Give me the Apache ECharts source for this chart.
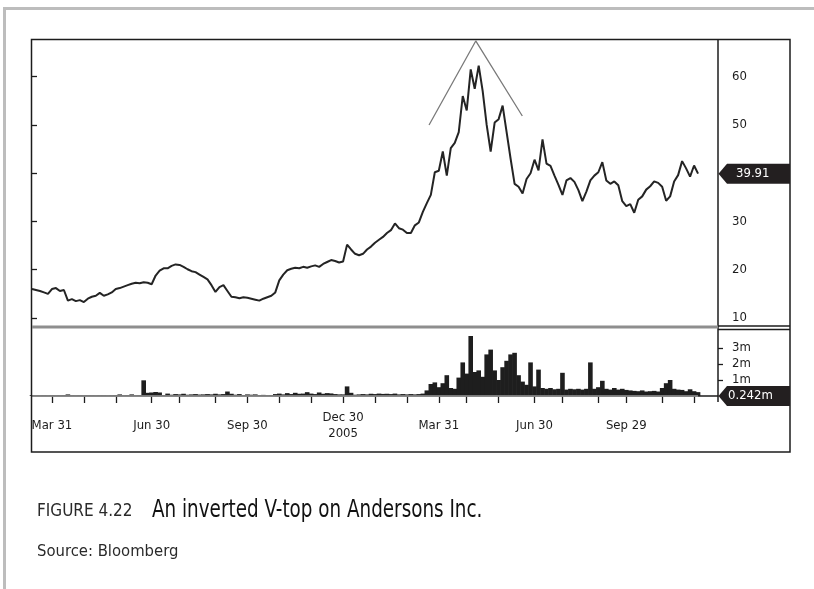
<!DOCTYPE html>
<html>
<head>
<meta charset="utf-8">
<script src="https://cdn.jsdelivr.net/npm/echarts@6/dist/echarts.min.js"></script>
<style>
html,body{margin:0;padding:0;background:#ffffff;}
#chart{width:814px;height:589px;}
</style>
</head>
<body>
<div id="chart"></div>
<script>
// ---- Data ----
// Price samples (every ~2-3 trading days, Mar 2004 .. Dec 2005)
const prices = [
  16.0, 15.8, 15.6, 15.3, 15.0, 16.0, 16.2, 15.6, 15.8, 13.6,
  13.9, 13.5, 13.7, 13.3, 14.0, 14.4, 14.6, 15.2, 14.6, 14.9,
  15.3, 16.0, 16.2, 16.5, 16.8, 17.1, 17.3, 17.2, 17.4, 17.3,
  17.0, 18.8, 19.8, 20.3, 20.3, 20.8, 21.1, 21.0, 20.6, 20.1,
  19.7, 19.5, 19.0, 18.5, 18.0, 16.8, 15.4, 16.4, 16.8, 15.6,
  14.4, 14.3, 14.1, 14.3, 14.2, 14.0, 13.8, 13.6, 14.0, 14.3,
  14.6, 15.3, 17.8, 19.0, 19.9, 20.2, 20.4, 20.3, 20.6, 20.4,
  20.7, 20.9, 20.6, 21.2, 21.6, 22.0, 21.8, 21.5, 21.7, 25.2,
  24.2, 23.3, 23.0, 23.3, 24.2, 24.8, 25.6, 26.2, 26.8, 27.6,
  28.2, 29.6, 28.6, 28.3, 27.6, 27.6, 29.2, 29.8, 32.0, 33.8,
  35.5, 40.2, 40.5, 44.5, 39.5, 45.2, 46.3, 48.5, 56.0, 53.0,
  61.5, 57.5, 62.3, 57.0, 50.0, 44.5, 50.5, 51.2, 54.0, 48.5,
  43.0, 37.8, 37.2, 35.8, 38.8, 40.0, 42.8, 40.6, 47.0, 42.0,
  41.5, 39.5, 37.6, 35.5, 38.5, 39.0, 38.2, 36.5, 34.2, 36.2,
  38.5, 39.5, 40.2, 42.3, 38.5, 37.8, 38.3, 37.5, 34.2, 33.2,
  33.6, 31.8, 34.5, 35.2, 36.6, 37.3, 38.3, 38.0, 37.2, 34.3,
  35.2, 38.3, 39.6, 42.5, 41.0, 39.3, 41.6, 39.91
];
// Volume in millions of shares, same samples
const volumes = [
  0.05, 0.04, 0.04, 0.05, 0.04, 0.05, 0.04, 0.05, 0.06, 0.10,
  0.05, 0.04, 0.05, 0.04, 0.05, 0.05, 0.04, 0.05, 0.05, 0.04,
  0.05, 0.06, 0.10, 0.05, 0.06, 0.10, 0.05, 0.06, 0.98, 0.20,
  0.22, 0.25, 0.22, 0.06, 0.15, 0.08, 0.12, 0.10, 0.14, 0.08,
  0.10, 0.12, 0.09, 0.10, 0.12, 0.10, 0.14, 0.10, 0.12, 0.28,
  0.14, 0.08, 0.12, 0.06, 0.10, 0.08, 0.10, 0.06, 0.07, 0.05,
  0.06, 0.12, 0.15, 0.10, 0.18, 0.12, 0.20, 0.14, 0.15, 0.24,
  0.15, 0.12, 0.22, 0.14, 0.18, 0.16, 0.12, 0.10, 0.10, 0.60,
  0.20, 0.08, 0.10, 0.12, 0.10, 0.14, 0.12, 0.15, 0.13, 0.14,
  0.12, 0.15, 0.10, 0.12, 0.10, 0.12, 0.10, 0.12, 0.15, 0.35,
  0.75, 0.85, 0.55, 0.80, 1.30, 0.50, 0.45, 1.15, 2.10, 1.40,
  3.75, 1.50, 1.60, 1.20, 2.60, 2.90, 1.60, 1.00, 1.80, 2.20,
  2.60, 2.70, 1.30, 0.90, 0.70, 2.10, 0.60, 1.65, 0.50, 0.45,
  0.50, 0.42, 0.45, 1.45, 0.40, 0.45, 0.42, 0.45, 0.40, 0.45,
  2.10, 0.45, 0.55, 0.95, 0.45, 0.40, 0.50, 0.40, 0.45, 0.38,
  0.35, 0.32, 0.30, 0.35, 0.28, 0.30, 0.32, 0.28, 0.50, 0.80,
  1.00, 0.45, 0.40, 0.38, 0.30, 0.42, 0.30, 0.242
];
// Empty sample slots after the last trade (right margin of the plot)
const padSlots = 5;
// Month-end tick positions (sample index) and quarter labels
const monthTickIdx = [5, 13, 21, 30, 37, 46, 54, 62, 70, 78, 86, 94, 102, 109, 117, 126, 133, 142, 149, 158, 166];
const dateLabelIdx = [5, 30, 54, 78, 102, 126, 149];
const dateLabels = ['Mar 31', 'Jun 30', 'Sep 30', 'Dec 30\n2005', 'Mar 31', 'Jun 30', 'Sep 29'];
// Axis tick values
const priceTicks = [10, 20, 30, 40, 50, 60];
const volumeTicks = [1, 2, 3];
// Inverted-V annotation (sample index, price)
const vTop = [[99.55, 49.99], [111.26, 67.4], [122.94, 51.85]];

// ---- Build chart ----
const FONT = '"DejaVu Sans Condensed", "Liberation Sans Narrow", "Arial Narrow", sans-serif';
const categories = prices.concat(new Array(padSlots).fill(null)).map((_, i) => String(i));
const tickSet = new Set(monthTickIdx);
const labelMap = new Map(dateLabelIdx.map((k, j) => [k, dateLabels[j]]));
const lastPrice = prices[prices.length - 1];
const lastVolume = volumes[volumes.length - 1];
const INK = '#1c1c1c';

const chart = echarts.init(document.getElementById('chart'), null, {renderer: 'canvas'});

const baseGraphic = [
  // page border (grey)
  {type: 'line', id: 'pgL', shape: {x1: 4.5, y1: 7, x2: 4.5, y2: 589}, style: {stroke: '#bdbdbd', lineWidth: 3}},
  {type: 'line', id: 'pgT', shape: {x1: 3, y1: 8.5, x2: 814, y2: 8.5}, style: {stroke: '#bdbdbd', lineWidth: 3}},
  // chart frame
  {type: 'rect', id: 'frame', shape: {x: 31.5, y: 39.5, width: 758.5, height: 412.5}, style: {fill: null, stroke: INK, lineWidth: 1.5}, z: 10},
  {type: 'line', id: 'divider', shape: {x1: 718, y1: 40, x2: 718, y2: 402}, style: {stroke: INK, lineWidth: 1.5}, z: 10},
  // separator between price and volume panels
  {type: 'line', id: 'sepG', shape: {x1: 32, y1: 327, x2: 718, y2: 327}, style: {stroke: '#8e8e8e', lineWidth: 3}, z: 10},
  {type: 'line', id: 'sepA', shape: {x1: 718, y1: 326, x2: 790, y2: 326}, style: {stroke: INK, lineWidth: 1.3}, z: 10},
  {type: 'line', id: 'sepB', shape: {x1: 718, y1: 329.5, x2: 790, y2: 329.5}, style: {stroke: INK, lineWidth: 1.3}, z: 10},
  // caption
  {type: 'text', id: 'figNo', x: 37, y: 512, style: {text: 'FIGURE 4.22', font: '17px ' + FONT, fill: '#2a2a2a', verticalAlign: 'middle'}},
  {type: 'text', id: 'figTitle', x: 152, y: 511, scaleX: 0.85, style: {text: 'An inverted V-top on Andersons Inc.', font: '24px ' + FONT, fill: '#111111', verticalAlign: 'middle'}},
  {type: 'text', id: 'figSrc', x: 37, y: 552, style: {text: 'Source: Bloomberg', font: '16.5px ' + FONT, fill: '#2a2a2a', verticalAlign: 'middle'}}
];

const option = {
  animation: false,
  backgroundColor: '#ffffff',
  textStyle: {fontFamily: FONT},
  grid: [
    {left: 32, right: 96, top: 40, height: 278, containLabel: false},
    {left: 32, right: 96, top: 332.8, height: 63.2, containLabel: false}
  ],
  xAxis: [
    {type: 'category', gridIndex: 0, data: categories, boundaryGap: false, show: false},
    {type: 'value', gridIndex: 0, min: 0, max: categories.length - 1, show: false},
    {
      type: 'category', gridIndex: 1, data: categories, boundaryGap: false, offset: 6,
      axisLine: {show: true, lineStyle: {color: INK, width: 1.5}},
      axisTick: {show: true, interval: (i) => tickSet.has(i), length: 7, lineStyle: {color: INK, width: 1.3}},
      axisLabel: {
        show: true, interval: (i) => labelMap.has(i), formatter: (v, i) => labelMap.get(i) || '',
        fontSize: 13, color: INK, margin: 24, verticalAlign: 'middle', lineHeight: 16, fontFamily: FONT
      },
      splitLine: {show: false}
    }
  ],
  yAxis: [
    {
      type: 'value', gridIndex: 0, position: 'right', min: 10, max: 67.6, interval: 10,
      axisLine: {show: false},
      axisTick: {show: true, length: 5, customValues: priceTicks, lineStyle: {color: INK, width: 1.3}},
      axisLabel: {show: true, customValues: priceTicks, fontSize: 13, color: INK, margin: 14, fontFamily: FONT,
        formatter: (v) => (v % 10 === 0 ? String(v) : '')},
      splitLine: {show: false}
    },
    {
      type: 'value', gridIndex: 1, position: 'right', min: 0, max: 3.95, interval: 1,
      axisLine: {show: false},
      axisTick: {show: true, length: 5, customValues: volumeTicks, lineStyle: {color: INK, width: 1.3}},
      axisLabel: {show: true, customValues: volumeTicks, fontSize: 13, color: INK, margin: 14, fontFamily: FONT,
        formatter: (v) => (v >= 1 && v <= 3 ? v + 'm' : '')},
      splitLine: {show: false}
    }
  ],
  series: [
    {
      type: 'line', name: 'Price', xAxisIndex: 0, yAxisIndex: 0, data: prices,
      symbol: 'none', lineStyle: {color: '#242424', width: 2}, z: 3
    },
    {
      type: 'line', name: 'V-top', xAxisIndex: 1, yAxisIndex: 0, data: vTop,
      symbol: 'none', lineStyle: {color: '#7a7a7a', width: 1.3}, z: 4
    },
    {
      type: 'bar', name: 'Volume', xAxisIndex: 2, yAxisIndex: 1, data: volumes,
      barWidth: 4.6, itemStyle: {color: '#1e1e1e'},
      markLine: {
        silent: true, symbol: 'none', label: {show: false},
        lineStyle: {color: '#9a9a9a', width: 1.5, type: 'solid'},
        data: [[{coord: [categories[0], 0]}, {coord: [categories[volumes.length - 1], 0]}]]
      },
      z: 3
    }
  ],
  graphic: baseGraphic
};

chart.setOption(option);

function valueTag(id, cy, text, textX) {
  return [
    {type: 'polygon', id: id + 'Box', z: 100,
      shape: {points: [[718.5, cy], [727, cy - 10], [790, cy - 10], [790, cy + 10], [727, cy + 10]]},
      style: {fill: '#231f20'}},
    {type: 'text', id: id + 'Txt', z: 101, x: textX, y: cy,
      style: {text: text, fill: '#ffffff', font: '13px ' + FONT, verticalAlign: 'middle'}}
  ];
}
const yPrice = chart.convertToPixel({yAxisIndex: 0}, lastPrice);
const yVolZero = chart.convertToPixel({yAxisIndex: 1}, 0);
option.graphic = baseGraphic
  .concat(valueTag('lastPrice', yPrice, lastPrice.toFixed(2), 736))
  .concat(valueTag('lastVol', yVolZero, lastVolume + 'm', 728));
chart.setOption(option, true);
</script>
</body>
</html>
